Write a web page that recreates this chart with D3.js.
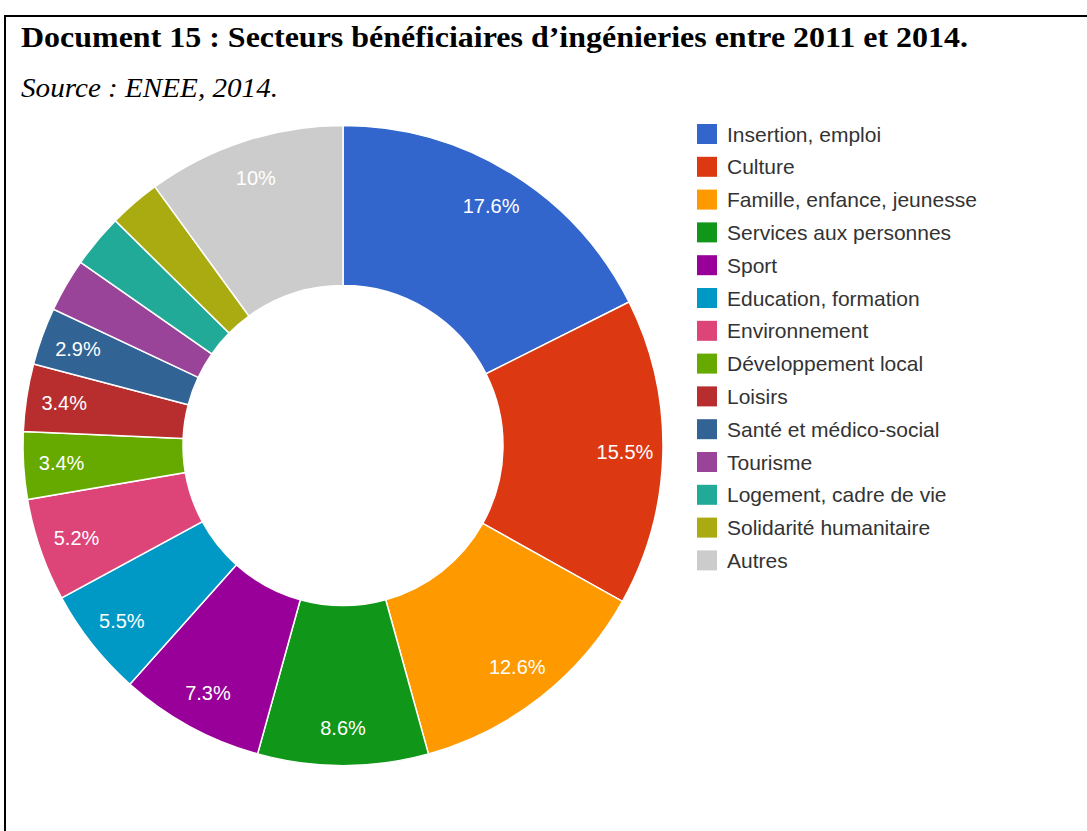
<!DOCTYPE html>
<html>
<head>
<meta charset="utf-8">
<script src="https://cdn.jsdelivr.net/npm/d3@7"></script>
<style>
  body { margin: 0; background: #fff; }
  svg { display: block; }
</style>
</head>
<body>
<svg id="chart" width="1087" height="831"></svg>
<script>
// Sectors and their shares (%)
const SECTORS = [
  "Insertion, emploi", "Culture", "Famille, enfance, jeunesse", "Services aux personnes",
  "Sport", "Education, formation", "Environnement", "Développement local", "Loisirs",
  "Santé et médico-social", "Tourisme", "Logement, cadre de vie", "Solidarité humanitaire", "Autres"
];
const SHARES = [17.6, 15.5, 12.6, 8.6, 7.3, 5.5, 5.2, 3.4, 3.4, 2.9, 2.7, 2.7, 2.6, 10];
const COLORS = [
  "#3366cc", "#dc3912", "#ff9900", "#109618", "#990099", "#0099c6", "#dd4477",
  "#66aa00", "#b82e2e", "#316395", "#994499", "#22aa99", "#aaaa11", "#cccccc"
];
// labels are hidden for slices too thin to hold them
const LABEL_MIN = 2.8;

const TITLE = "Document 15 : Secteurs bénéficiaires d’ingénieries entre 2011 et 2014.";
const SOURCE = "Source : ENEE, 2014.";

const svg = d3.select("#chart");

// document frame (right and bottom edges run off the page)
svg.append("path")
  .attr("d", "M5,831 V16 H1090")
  .attr("fill", "none")
  .attr("stroke", "#000")
  .attr("stroke-width", 2);

// the scanned page is a bit stretched sideways, so the texts are fitted to its widths
svg.append("text")
  .attr("x", 21).attr("y", 47)
  .attr("textLength", 947)
  .attr("lengthAdjust", "spacingAndGlyphs")
  .style("font-family", "'Liberation Serif', 'Times New Roman', serif")
  .style("font-weight", "bold")
  .style("font-size", "30px")
  .text(TITLE);

svg.append("text")
  .attr("x", 21).attr("y", 97)
  .attr("textLength", 257)
  .attr("lengthAdjust", "spacingAndGlyphs")
  .style("font-family", "'Liberation Serif', 'Times New Roman', serif")
  .style("font-style", "italic")
  .style("font-size", "27px")
  .text(SOURCE);

// donut
const cx = 343, cy = 445.5, outerR = 320, innerR = 160, labelR = 282;
const data = SECTORS.map((name, i) => ({ name: name, value: SHARES[i], color: COLORS[i] }));

const pie = d3.pie().value(d => d.value).sort(null);
const arc = d3.arc().innerRadius(innerR).outerRadius(outerR);
const labelArc = d3.arc().innerRadius(labelR).outerRadius(labelR);

const g = svg.append("g").attr("transform", `translate(${cx},${cy})`);
const slices = pie(data);

g.selectAll("path.slice")
  .data(slices)
  .join("path")
  .attr("class", "slice")
  .attr("d", arc)
  .attr("fill", d => d.data.color)
  .attr("stroke", "#fff")
  .attr("stroke-width", 1.5);

g.selectAll("text.pct")
  .data(slices.filter(d => d.data.value >= LABEL_MIN))
  .join("text")
  .attr("class", "pct")
  .attr("transform", d => `translate(${labelArc.centroid(d)})`)
  .attr("text-anchor", "middle")
  .attr("dy", "0.36em")
  .style("font-family", "Arial, 'Liberation Sans', sans-serif")
  .style("font-size", "20px")
  .style("fill", "#fff")
  .text(d => d.data.value + "%");

// legend
const legendX = 697, legendY = 134, rowH = 32.8;
const legend = svg.append("g");
const rows = legend.selectAll("g")
  .data(data)
  .join("g")
  .attr("transform", (d, i) => `translate(${legendX},${legendY + i * rowH})`);

rows.append("rect")
  .attr("x", 0).attr("y", -10)
  .attr("width", 20).attr("height", 20)
  .attr("fill", d => d.color);

rows.append("text")
  .attr("x", 30).attr("dy", "0.36em")
  .style("font-family", "Arial, 'Liberation Sans', sans-serif")
  .style("font-size", "21px")
  .style("fill", "#333")
  .text(d => d.name);
</script>
</body>
</html>
